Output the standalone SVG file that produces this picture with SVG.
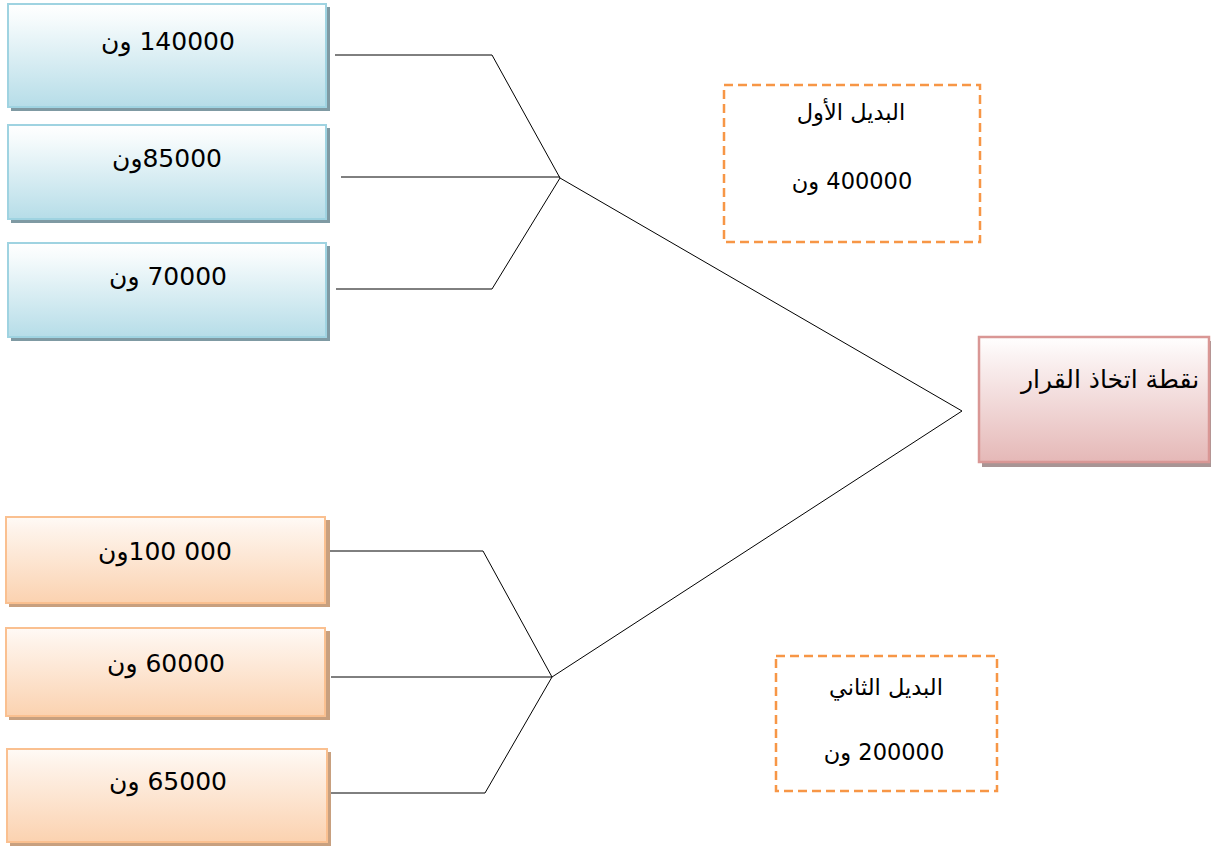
<svg xmlns="http://www.w3.org/2000/svg" width="1211" height="850" viewBox="0 0 1211 850">
  <defs>
    <linearGradient id="gBlue" x1="0" y1="0" x2="0" y2="1">
      <stop offset="0" stop-color="#ffffff"/>
      <stop offset="0.15" stop-color="#f6fbfc"/>
      <stop offset="1" stop-color="#b6dde8"/>
    </linearGradient>
    <linearGradient id="gOrange" x1="0" y1="0" x2="0" y2="1">
      <stop offset="0" stop-color="#fffaf6"/>
      <stop offset="0.15" stop-color="#fef3ea"/>
      <stop offset="1" stop-color="#fbd2b0"/>
    </linearGradient>
    <linearGradient id="gPink" x1="0" y1="0" x2="0" y2="1">
      <stop offset="0" stop-color="#ffffff"/>
      <stop offset="0.15" stop-color="#fbf3f3"/>
      <stop offset="1" stop-color="#e5b8b7"/>
    </linearGradient>
  </defs>
  <style>
    .shB { fill: #7f9aa3; }
    .shO { fill: #c8a07f; }
    .shP { fill: #a89595; }
    .bBlue { fill: url(#gBlue); stroke: #9fd3e1; stroke-width: 2; }
    .bOrange { fill: url(#gOrange); stroke: #fac090; stroke-width: 2; }
    .bPink { fill: url(#gPink); stroke: #d99795; stroke-width: 2.5; }
    .dash { fill: none; stroke: #f79646; stroke-width: 2.5; stroke-dasharray: 9 5; }
    .t { font-family: "DejaVu Sans", sans-serif; font-size: 25px; fill: #000; text-anchor: middle; }
    .ts { font-family: "DejaVu Sans", sans-serif; font-size: 22.5px; fill: #000; text-anchor: middle; }
    .conn { fill: none; stroke: #000; stroke-width: 1; }
  </style>
  <rect width="1211" height="850" fill="#ffffff"/>

  <!-- connectors -->
  <g id="connectors" class="conn">
    <polyline points="335,55 492,55 560,178"/>
    <polyline points="341,177 560,177"/>
    <polyline points="336,289 492,289 560,178"/>
    <polyline points="560,178 962,411 552,677"/>
    <polyline points="329,551 483,551 552,677"/>
    <polyline points="331,677 552,677"/>
    <polyline points="331,793 485,793 552,677"/>
  </g>

  <!-- outcomes of the first alternative -->
  <g id="n140000">
    <rect class="shB" x="11" y="7" width="319" height="104"/>
    <rect class="bBlue" x="8" y="4" width="318" height="103"/>
    <text class="t" x="168" y="50" direction="rtl">140000 ون</text>
  </g>
  <g id="n85000">
    <rect class="shB" x="11" y="128" width="319" height="95"/>
    <rect class="bBlue" x="8" y="125" width="318" height="94"/>
    <text class="t" x="167" y="167" direction="rtl">85000ون</text>
  </g>
  <g id="n70000">
    <rect class="shB" x="11" y="246" width="319" height="95"/>
    <rect class="bBlue" x="8" y="243" width="318" height="94"/>
    <text class="t" x="168" y="285" direction="rtl">70000 ون</text>
  </g>

  <!-- outcomes of the second alternative -->
  <g id="n100000">
    <rect class="shO" x="9" y="520" width="321" height="87"/>
    <rect class="bOrange" x="6" y="517" width="319" height="86"/>
    <text class="t" x="165" y="560" direction="rtl">000 100ون</text>
  </g>
  <g id="n60000">
    <rect class="shO" x="9" y="631" width="321" height="89"/>
    <rect class="bOrange" x="6" y="628" width="319" height="88"/>
    <text class="t" x="166" y="672" direction="rtl">60000 ون</text>
  </g>
  <g id="n65000">
    <rect class="shO" x="10" y="752" width="321" height="94"/>
    <rect class="bOrange" x="7" y="749" width="320" height="93"/>
    <text class="t" x="168" y="790" direction="rtl">65000 ون</text>
  </g>

  <!-- decision point -->
  <g id="decision">
    <rect class="shP" x="982" y="341" width="232" height="126"/>
    <rect class="bPink" x="979" y="337" width="230" height="125"/>
    <text class="t" x="1110" y="388" direction="rtl">نقطة اتخاذ القرار</text>
  </g>

  <!-- alternative labels -->
  <g id="alt1">
    <rect class="dash" x="724" y="85" width="256" height="157"/>
    <text class="ts" x="851" y="120" direction="rtl">البديل الأول</text>
    <text class="ts" x="852" y="189" direction="rtl">400000 ون</text>
  </g>
  <g id="alt2">
    <rect class="dash" x="776" y="656" width="221" height="135"/>
    <text class="ts" x="886" y="695" direction="rtl">البديل الثاني</text>
    <text class="ts" x="884" y="760" direction="rtl">200000 ون</text>
  </g>
</svg>
